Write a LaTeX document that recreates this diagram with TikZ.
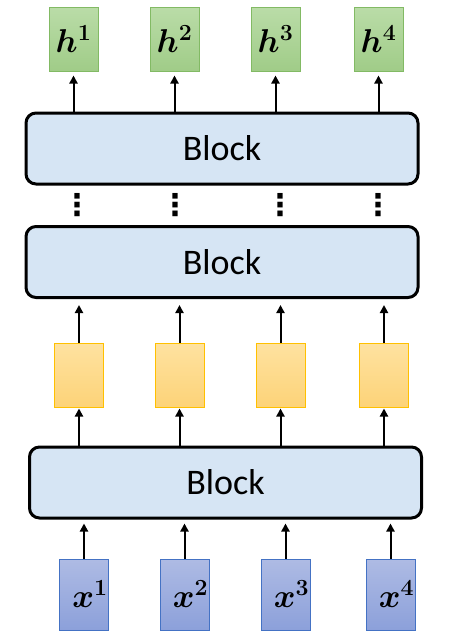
\RequirePackage{fix-cm}
\documentclass[tikz,border=0pt]{standalone}
\usepackage{amsmath}
\usepackage{amssymb}
\usepackage{fontspec}
\setmainfont{Carlito}
\newfontfamily\symfont{DejaVu Sans}
\usetikzlibrary{arrows.meta}

\definecolor{blockfill}{RGB}{214,229,244}
\definecolor{greenline}{RGB}{130,186,100}
\definecolor{greentop}{RGB}{186,220,168}
\definecolor{greenbot}{RGB}{160,204,136}
\definecolor{yellowline}{RGB}{255,192,0}
\definecolor{yellowtop}{RGB}{254,226,160}
\definecolor{yellowbot}{RGB}{253,211,120}
\definecolor{blueline}{RGB}{68,114,196}
\definecolor{bluetop}{RGB}{174,187,228}
\definecolor{bluebot}{RGB}{140,160,218}

\tikzset{
	blockbox/.style={draw=black, line width=3pt, rounded corners=10pt, fill=blockfill,
		minimum width=392pt, minimum height=71pt, inner sep=0pt,
		font=\fontsize{36}{40}\selectfont},
	cell/.style={line width=1pt, minimum width=49pt, inner sep=0pt,
		font=\fontsize{33}{36}\selectfont\boldmath},
	outcell/.style={cell, draw=greenline, top color=greentop, bottom color=greenbot, minimum height=64pt},
	midcell/.style={cell, draw=yellowline, top color=yellowtop, bottom color=yellowbot, minimum height=64pt},
	incell/.style={cell, draw=blueline, top color=bluetop, bottom color=bluebot, minimum height=71pt},
	flow/.style={-{Triangle[length=8pt,width=8pt]}, line width=2pt},
	vdotsnode/.style={inner sep=0pt, font=\fontsize{30}{34}\symfont\bfseries}
}

\begin{document}
\begin{tikzpicture}[x=1pt, y=-1pt]
	\useasboundingbox (0,0) rectangle (448,638);
	% blocks
	\node[blockbox] (top) at (222,148.5) {Block};
	\node[blockbox] (mid) at (222,262) {Block};
	\node[blockbox] (bot) at (225.5,482.5) {Block};
	% outputs
	\node[outcell] (h1) at (73.5,39) {$h^1$};
	\node[outcell] (h2) at (174.5,39) {$h^2$};
	\node[outcell] (h3) at (275.5,39) {$h^3$};
	\node[outcell] (h4) at (378.5,39) {$h^4$};
	% between blocks
	\node[midcell] (y1) at (79,375) {};
	\node[midcell] (y2) at (179.5,375) {};
	\node[midcell] (y3) at (280.5,375) {};
	\node[midcell] (y4) at (384,375) {};
	% inputs
	\node[incell] (x1) at (84,594.5) {\hspace*{12pt}$x^1$};
	\node[incell] (x2) at (184.5,594.5) {\hspace*{12pt}$x^2$};
	\node[incell] (x3) at (285.5,594.5) {\hspace*{12pt}$x^3$};
	\node[incell] (x4) at (390.5,594.5) {\hspace*{12pt}$x^4$};
	% skipped blocks
	\node[vdotsnode] (d1) at (77,205) {⋮};
	\node[vdotsnode] (d2) at (175,205) {⋮};
	\node[vdotsnode] (d3) at (280,205) {⋮};
	\node[vdotsnode] (d4) at (378,205) {⋮};

	\path[flow]
	(x1.north) edge[shorten >=4pt] (x1.north |- bot.south)
	(x2.north) edge[shorten >=4pt] (x2.north |- bot.south)
	(x3.north) edge[shorten >=4pt] (x3.north |- bot.south)
	(x4.north) edge[shorten >=4pt] (x4.north |- bot.south)
	(y1.south |- bot.north) edge[shorten >=1pt] (y1.south)
	(y2.south |- bot.north) edge[shorten >=1pt] (y2.south)
	(y3.south |- bot.north) edge[shorten >=1pt] (y3.south)
	(y4.south |- bot.north) edge[shorten >=1pt] (y4.south)
	(y1.north) edge[shorten >=6pt] (y1.north |- mid.south)
	(y2.north) edge[shorten >=6pt] (y2.north |- mid.south)
	(y3.north) edge[shorten >=6pt] (y3.north |- mid.south)
	(y4.north) edge[shorten >=6pt] (y4.north |- mid.south)
	(h1.south |- top.north) edge[shorten >=4pt] (h1.south)
	(h2.south |- top.north) edge[shorten >=4pt] (h2.south)
	(h3.south |- top.north) edge[shorten >=4pt] (h3.south)
	(h4.south |- top.north) edge[shorten >=4pt] (h4.south);
\end{tikzpicture}
\end{document}
